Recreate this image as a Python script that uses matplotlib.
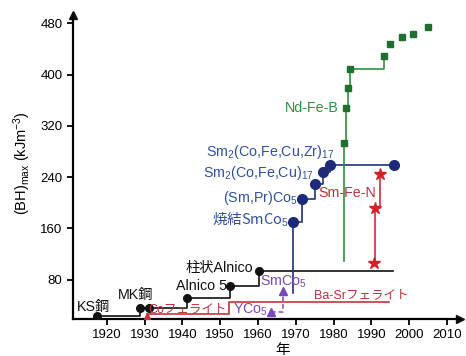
import matplotlib
matplotlib.use("Agg")
import matplotlib.pyplot as plt

plt.rcParams['font.family'] = ['Liberation Sans', 'Noto Sans CJK JP', 'DejaVu Sans']
plt.rcParams['mathtext.fontset'] = 'custom'
plt.rcParams['mathtext.rm'] = 'Liberation Sans'
plt.rcParams['mathtext.it'] = 'Liberation Sans:italic'

# steels / Alnico
steel_year = [1917.3, 1928.8, 1931.2, 1941.3, 1952.7, 1960.2, 1995.8]
steel_bh = [23, 36, 36, 51, 70, 94, 94]

# ferrites (Co ferrite -> Ba-Sr ferrite)
ferrite_year = [1930.5, 1952.2, 1994.6]
ferrite_bh = [26.5, 45, 45]

# YCo5 -> SmCo5
yco_year = [1963.5, 1966.5, 1966.5]
yco_bh = [30, 30, 62]

# Sm-Co
smco_year = [1969.2, 1969.2, 1971.6, 1975.0, 1977.2, 1979.0, 1996.0]
smco_bh = [59, 170, 206, 229, 248, 259, 259]

# Nd-Fe-B
ndfeb_year = [1982.8, 1982.8, 1983.3, 1983.8, 1984.4, 1993.4]
ndfeb_bh = [109, 293, 348, 379, 409, 429]
ndfeb_late_year = [1995.0, 1998.2, 2001.1, 2005.0]
ndfeb_late_bh = [448, 459, 463, 474]

# Sm-Fe-N
smfen_year = [1990.7, 1991.0, 1992.3]
smfen_bh = [106, 192, 245]

x_ticks = [1920, 1930, 1940, 1950, 1960, 1970, 1980, 1990, 2000, 2010]
y_ticks = [80, 160, 240, 320, 400, 480]

black = '#111111'
blue_line = '#22307a'
blue_mark = '#1c2a78'
blue_text = '#2f4f9f'
green_line = '#2e9040'
green_mark = '#1f6f2e'
red_line = '#c8323c'
red_text = '#c0303c'
star_red = '#d42028'
purple = '#7a48b8'

fig = plt.figure(figsize=(4.66, 3.56), dpi=100)
ax = fig.add_axes([73 / 466, 1 - 319 / 356, (460 - 73) / 466, (319 - 15) / 356])

ax.plot(steel_year, steel_bh, drawstyle='steps-post', color=black, lw=1.2,
        marker='o', ms=5.5, markevery=[0, 1, 2, 3, 4, 5], zorder=3)
ax.plot(ferrite_year, ferrite_bh, drawstyle='steps-post', color=red_line, lw=1.2, zorder=2)
ax.plot(ferrite_year[0], ferrite_bh[0] - 3, marker='^', ms=5, color=red_line, zorder=3)
ax.plot(yco_year, yco_bh, drawstyle='steps-post', color=purple, lw=1.1, ls=(0, (3, 2)), zorder=2)
ax.plot(yco_year[0], yco_bh[0], marker='^', ms=6, color=purple, zorder=3)
ax.plot(yco_year[-1], yco_bh[-1], marker='^', ms=6, color=purple, zorder=3)
ax.plot(smco_year, smco_bh, drawstyle='steps-post', color=blue_line, lw=1.2,
        marker='o', ms=7, mfc=blue_mark, mec=blue_mark, markevery=[1, 2, 3, 4, 5, 6], zorder=3)
ax.plot(ndfeb_year, ndfeb_bh, drawstyle='steps-post', color=green_line, lw=1.2,
        marker='s', ms=5, mfc=green_mark, mec=green_mark, markevery=[1, 2, 3, 4, 5], zorder=3)
ax.plot(ndfeb_late_year, ndfeb_late_bh, ls='none', marker='s', ms=5,
        mfc=green_mark, mec=green_mark, zorder=3)
ax.plot(smfen_year, smfen_bh, drawstyle='steps-post', color=red_line, lw=1.2,
        marker='*', ms=9, mfc=star_red, mec=star_red, zorder=4)

fs = 10.3
jfs = 9
ax.text(1916.5, 37, 'KS鋼', ha='center', va='center', fontsize=fs, color=black)
ax.text(1927.6, 56, 'MK鋼', ha='center', va='center', fontsize=fs, color=black)
ax.text(1951.9, 70, 'Alnico 5', ha='right', va='center', fontsize=fs, color=black)
ax.text(1958.6, 98, '柱状Alnico', ha='right', va='center', fontsize=fs, color=black)
ax.text(1951.6, 34, 'Coフェライト', ha='right', va='center', fontsize=jfs, color=red_text)
ax.text(1953.5, 33, 'YCo$_5$', ha='left', va='center', fontsize=fs, color=purple)
ax.text(1960.4, 76, 'SmCo$_5$', ha='left', va='center', fontsize=fs, color=purple)
ax.text(1974.8, 56, 'Ba-Srフェライト', ha='left', va='center', fontsize=jfs, color=red_text)
ax.text(1968.1, 173, '焼結SmCo$_5$', ha='right', va='center', fontsize=10.5, color=blue_text,
        family='Noto Sans CJK JP')
ax.text(1970.5, 207, '(Sm,Pr)Co$_5$', ha='right', va='center', fontsize=fs, color=blue_text)
ax.text(1974.8, 246, 'Sm$_2$(Co,Fe,Cu)$_{17}$', ha='right', va='center', fontsize=fs, color=blue_text)
ax.text(1980.1, 279, 'Sm$_2$(Co,Fe,Cu,Zr)$_{17}$', ha='right', va='center', fontsize=fs, color=blue_text)
ax.text(1976.1, 215, 'Sm-Fe-N', ha='left', va='center', fontsize=fs, color=red_text)
ax.text(1981.4, 348, 'Nd-Fe-B', ha='right', va='center', fontsize=fs, color=green_line)

ax.set_xlim(1911, 2013.5)
ax.set_ylim(18.7, 493)
ax.set_xticks(x_ticks)
ax.set_yticks(y_ticks)
ax.tick_params(labelsize=9.5, width=1.3, length=4, direction='out')
for s in ['top', 'right']:
    ax.spines[s].set_visible(False)
for s in ['left', 'bottom']:
    ax.spines[s].set_linewidth(1.6)
ax.plot(1, 0, '>', color=black, ms=6, transform=ax.transAxes, clip_on=False)
ax.plot(0, 1, '^', color=black, ms=6, transform=ax.transAxes, clip_on=False)

fig.text(283 / 466, 1 - 350 / 356, '年', ha='center', va='center', fontsize=10.5)
fig.text(22 / 466, 1 - 163 / 356, '(BH)$_{\\rm max}$ (kJm$^{-3}$)', rotation=90,
         ha='center', va='center', fontsize=10.5)

fig.savefig('out.png', dpi=100)
